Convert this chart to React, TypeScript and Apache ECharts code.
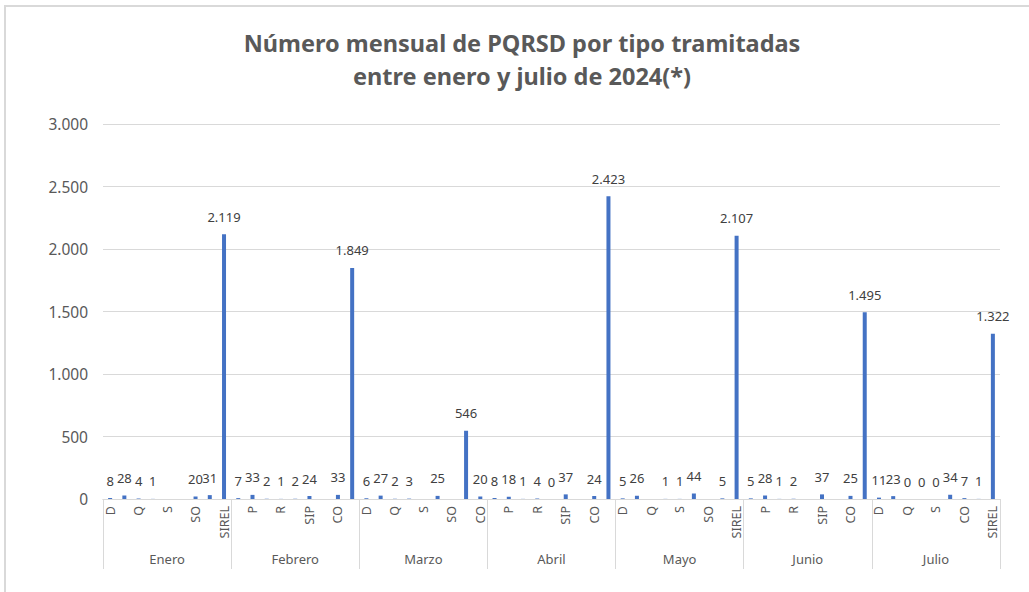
import React, { useEffect, useRef } from "react";
import * as echarts from "echarts";

const months = ["Enero", "Febrero", "Marzo", "Abril", "Mayo", "Junio", "Julio"];

const typesStd = ["D", "P", "Q", "R", "S", "SIP", "SO", "CO", "SIREL"];
const typesMarzo = ["D", "P", "Q", "R", "S", "SIP", "SO", "SIREL", "CO"];
const typesJulio = ["D", "P", "Q", "R", "S", "SIP", "CO", "SO", "SIREL"];

const monthTypes = [typesStd, typesStd, typesMarzo, typesStd, typesStd, typesStd, typesJulio];

const enero = [8, 28, 4, 1, null, null, 20, 31, 2119];
const febrero = [7, 33, 2, 1, 2, 24, null, 33, 1849];
const marzo = [6, 27, 2, 3, null, 25, null, 546, 20];
const abril = [8, 18, 1, 4, 0, 37, null, 24, 2423];
const mayo = [5, 26, null, 1, 1, 44, null, 5, 2107];
const junio = [5, 28, 1, 2, null, 37, null, 25, 1495];
const julio = [11, 23, 0, 0, 0, 34, 7, 1, 1322];

const monthValues = [enero, febrero, marzo, abril, mayo, junio, julio];

const yTicks = { min: 0, max: 3000, interval: 500 };

const fmt = (v: number) => String(Math.round(v)).replace(/\B(?=(\d{3})+(?!\d))/g, ".");

export default function App() {
  const ref = useRef<HTMLDivElement>(null);
  useEffect(() => {
    if (!ref.current) return;
    const chart = echarts.init(ref.current, undefined, { renderer: "svg" });
    const cats: string[] = [];
    const vals: (number | null)[] = [];
    monthTypes.forEach((t, i) => {
      t.forEach((c, j) => {
        cats.push(c);
        vals.push(monthValues[i][j]);
      });
    });
    const font = "'Noto Sans', sans-serif";
    chart.setOption({
      animation: false,
      textStyle: { fontFamily: font },
      grid: { left: 103, right: 29, top: 124, bottom: 93, containLabel: false },
      graphic: [
        {
          type: "rect",
          shape: { x: 5, y: 6, width: 1040, height: 600 },
          style: { fill: "none", stroke: "#d9d9d9", lineWidth: 2 },
          silent: true,
        },
        {
          type: "text",
          x: 522,
          y: 26,
          style: {
            text: "Número mensual de PQRSD por tipo tramitadas\nentre enero y julio de 2024(*)",
            font: "bold 23.5px 'Noto Sans', sans-serif",
            fill: "#595959",
            textAlign: "center",
            textVerticalAlign: "top",
            lineHeight: 33,
          },
        },
      ],
      xAxis: [
        {
          type: "category",
          data: cats,
          axisLine: { show: true, lineStyle: { color: "#d9d9d9", width: 1 } },
          axisTick: { show: false },
          axisLabel: {
            interval: 1,
            rotate: 90,
            fontSize: 12.5,
            color: "#595959",
            margin: 7,
            fontFamily: font,
          },
        },
        {
          type: "category",
          data: months,
          position: "bottom",
          axisLine: { show: true, lineStyle: { color: "#d9d9d9", width: 1 } },
          axisTick: { show: true, interval: 0, length: 70, lineStyle: { color: "#d9d9d9" } },
          axisLabel: { interval: 0, fontSize: 13, color: "#595959", margin: 53, fontFamily: font },
        },
      ],
      yAxis: {
        type: "value",
        min: yTicks.min,
        max: yTicks.max,
        interval: yTicks.interval,
        axisLine: { show: false },
        axisTick: { show: false },
        splitLine: { lineStyle: { color: "#d9d9d9" } },
        axisLabel: { fontSize: 15.5, color: "#595959", margin: 15, formatter: (v: number) => fmt(v), fontFamily: font },
      },
      series: [
        {
          type: "bar",
          data: vals,
          barWidth: 4,
          itemStyle: { color: "#4472c4" },
          label: {
            show: true,
            position: "top",
            distance: 11,
            fontSize: 13,
            color: "#404040",
            fontFamily: font,
            formatter: (p: any) => fmt(p.value),
          },
        },
      ],
    });
    return () => chart.dispose();
  }, []);
  return (
    <div
      ref={ref}
      style={{ position: "fixed", left: 0, top: 0, width: 1029, height: 592, background: "#fff" }}
    />
  );
}
